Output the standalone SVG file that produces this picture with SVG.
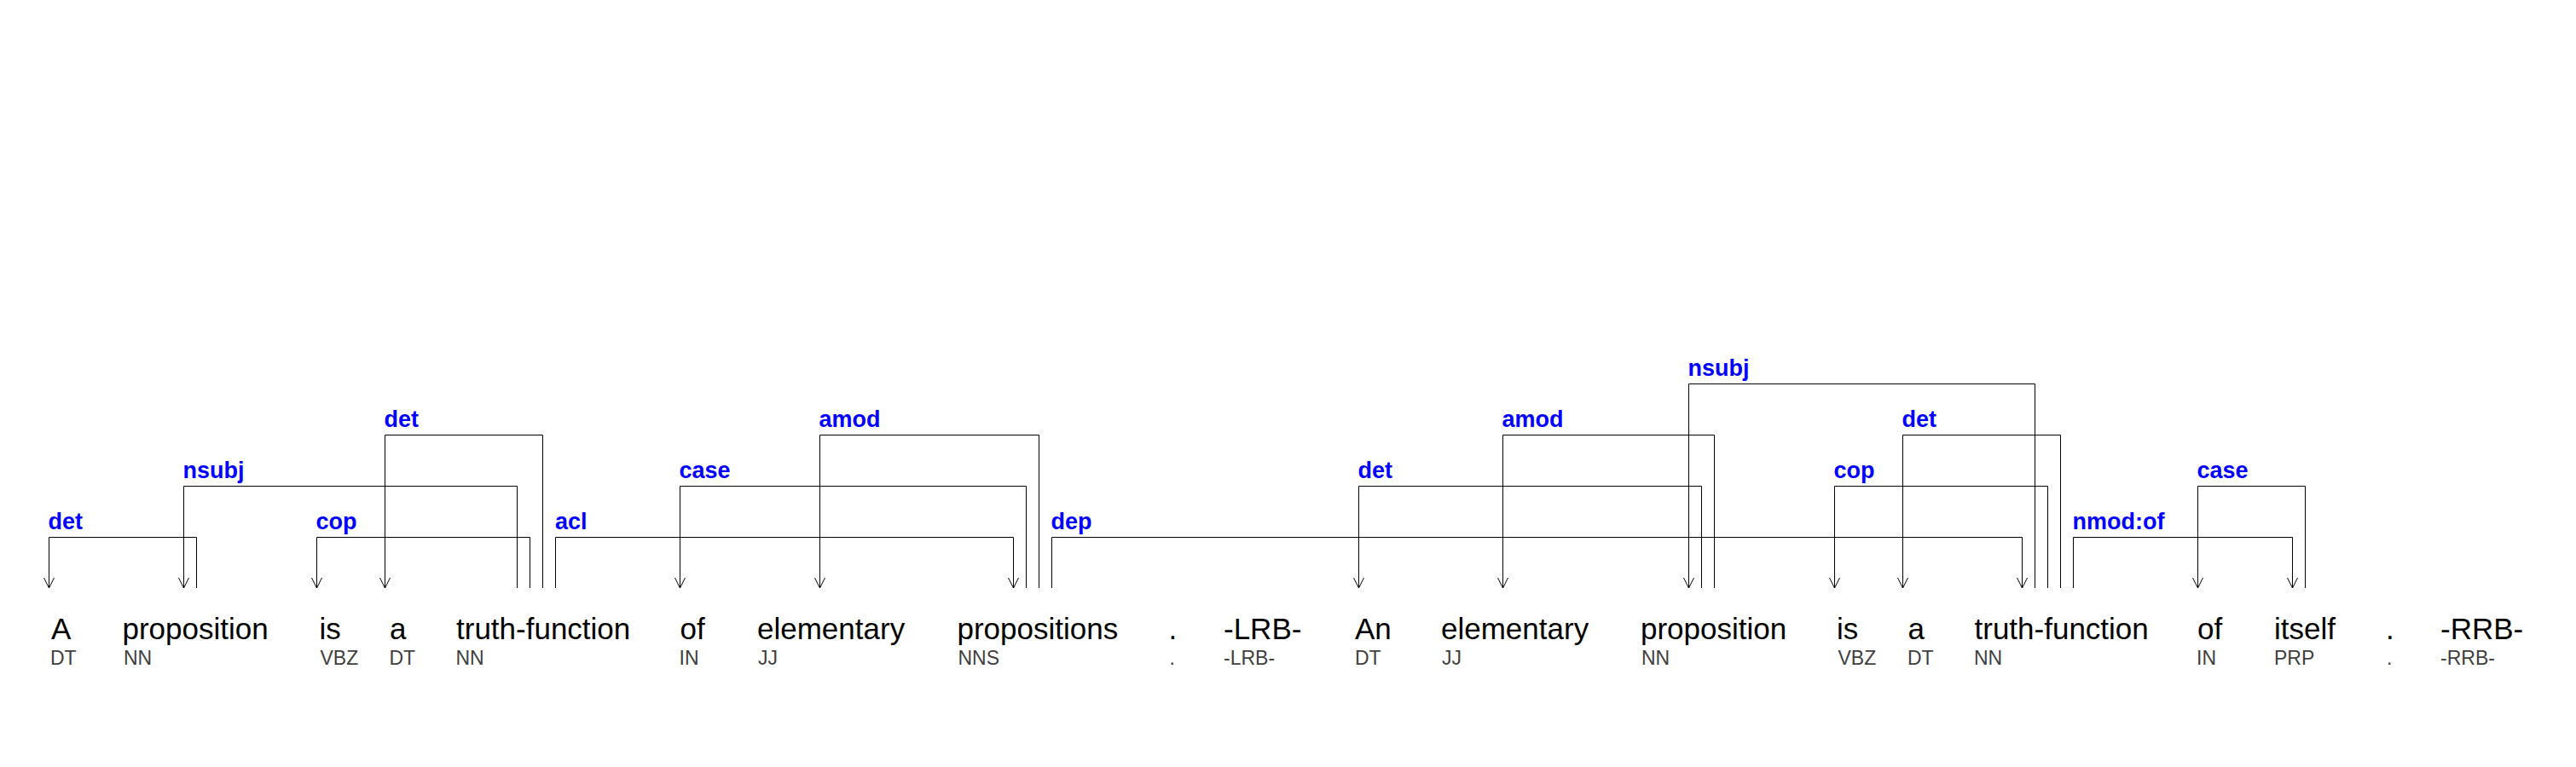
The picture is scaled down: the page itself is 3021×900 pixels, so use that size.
<svg xmlns="http://www.w3.org/2000/svg" width="3021" height="900" viewBox="0 0 3021 900">
<style>
.w{font-family:"Liberation Sans",Arial,sans-serif;font-size:35px;fill:#000}
.p{font-family:"Liberation Sans",Arial,sans-serif;font-size:23px;fill:#404040}
.l{font-family:"Liberation Sans",Arial,sans-serif;font-size:27px;font-weight:bold;fill:#0000ff}
.e{fill:none;stroke:#000;stroke-width:1}
.a{fill:none;stroke:#000;stroke-width:1;marker-end:url(#arr)}
</style>
<defs>
<marker id="arr" markerUnits="userSpaceOnUse" markerWidth="14" markerHeight="14" refX="0" refY="0" orient="auto" overflow="visible">
<path d="M-12,-6 L0,0 L-12,6" fill="none" stroke="#000" stroke-width="1"/>
</marker>
</defs>
<rect width="3021" height="900" fill="#fff"/>
<g id="words">
<g id="w1"><text class="w" x="60" y="750">A</text><text class="p" x="59" y="780">DT</text></g>
<g id="w2"><text class="w" x="143.5" y="750">proposition</text><text class="p" x="145" y="780">NN</text></g>
<g id="w3"><text class="w" x="374.5" y="750">is</text><text class="p" x="375.5" y="780">VBZ</text></g>
<g id="w4"><text class="w" x="457" y="750">a</text><text class="p" x="456.5" y="780">DT</text></g>
<g id="w5"><text class="w" x="535" y="750">truth-function</text><text class="p" x="534.5" y="780">NN</text></g>
<g id="w6"><text class="w" x="797.5" y="750">of</text><text class="p" x="796.5" y="780">IN</text></g>
<g id="w7"><text class="w" x="888" y="750">elementary</text><text class="p" x="889" y="780">JJ</text></g>
<g id="w8"><text class="w" x="1122.5" y="750">propositions</text><text class="p" x="1123.5" y="780">NNS</text></g>
<g id="w9"><text class="w" x="1370.5" y="750">.</text><text class="p" x="1371.5" y="780">.</text></g>
<g id="w10"><text class="w" x="1435" y="750">-LRB-</text><text class="p" x="1435" y="780">-LRB-</text></g>
<g id="w11"><text class="w" x="1589" y="750">An</text><text class="p" x="1589" y="780">DT</text></g>
<g id="w12"><text class="w" x="1690" y="750">elementary</text><text class="p" x="1691" y="780">JJ</text></g>
<g id="w13"><text class="w" x="1924" y="750">proposition</text><text class="p" x="1925" y="780">NN</text></g>
<g id="w14"><text class="w" x="2154" y="750">is</text><text class="p" x="2155.5" y="780">VBZ</text></g>
<g id="w15"><text class="w" x="2237.5" y="750">a</text><text class="p" x="2237" y="780">DT</text></g>
<g id="w16"><text class="w" x="2315.5" y="750">truth-function</text><text class="p" x="2315" y="780">NN</text></g>
<g id="w17"><text class="w" x="2577" y="750">of</text><text class="p" x="2576" y="780">IN</text></g>
<g id="w18"><text class="w" x="2667" y="750">itself</text><text class="p" x="2667" y="780">PRP</text></g>
<g id="w19"><text class="w" x="2798" y="750">.</text><text class="p" x="2799" y="780">.</text></g>
<g id="w20"><text class="w" x="2862" y="750">-RRB-</text><text class="p" x="2862" y="780">-RRB-</text></g>
</g>
<g id="connectors">
<g id="e1"><path class="a" d="M230.5,690 V630.5 H57.5 V690"/><text class="l" x="56.5" y="621">det</text></g>
<g id="e2"><path class="a" d="M621.5,690 V630.5 H371.5 V690"/><text class="l" x="370.5" y="621">cop</text></g>
<g id="e3"><path class="a" d="M651.5,690 V630.5 H1188.5 V690"/><text class="l" x="651" y="621">acl</text></g>
<g id="e4"><path class="a" d="M1233.5,690 V630.5 H2371.5 V690"/><text class="l" x="1232.5" y="621">dep</text></g>
<g id="e5"><path class="a" d="M2431.5,690 V630.5 H2688.5 V690"/><text class="l" x="2430.5" y="621">nmod:of</text></g>
<g id="e6"><path class="a" d="M606.5,690 V570.5 H215.5 V690"/><text class="l" x="214.5" y="561">nsubj</text></g>
<g id="e7"><path class="a" d="M1203.5,690 V570.5 H797.5 V690"/><text class="l" x="796.5" y="561">case</text></g>
<g id="e8"><path class="a" d="M1995.5,690 V570.5 H1593.5 V690"/><text class="l" x="1592.5" y="561">det</text></g>
<g id="e9"><path class="a" d="M2401.5,690 V570.5 H2151.5 V690"/><text class="l" x="2150.5" y="561">cop</text></g>
<g id="e10"><path class="a" d="M2703.5,690 V570.5 H2577.5 V690"/><text class="l" x="2576.5" y="561">case</text></g>
<g id="e11"><path class="a" d="M636.5,690 V510.5 H451.5 V690"/><text class="l" x="450.5" y="501">det</text></g>
<g id="e12"><path class="a" d="M1218.5,690 V510.5 H961.5 V690"/><text class="l" x="960.5" y="501">amod</text></g>
<g id="e13"><path class="a" d="M2010.5,690 V510.5 H1762.5 V690"/><text class="l" x="1761.5" y="501">amod</text></g>
<g id="e14"><path class="a" d="M2416.5,690 V510.5 H2231.5 V690"/><text class="l" x="2230.5" y="501">det</text></g>
<g id="e15"><path class="a" d="M2386.5,690 V450.5 H1980.5 V690"/><text class="l" x="1979.5" y="441">nsubj</text></g>
</g>
</svg>
